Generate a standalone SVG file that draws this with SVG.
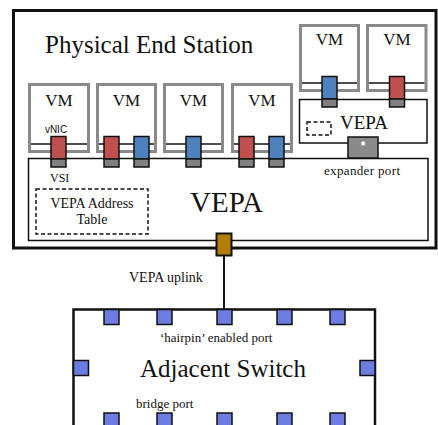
<svg xmlns="http://www.w3.org/2000/svg" width="438" height="425" viewBox="0 0 438 425">
  <defs>
    <!-- virtual NIC (coloured) sitting on its VSI (grey) -->
    <g id="nic-red">
      <rect width="15" height="22.5" fill="#c0504d" stroke="#111" stroke-width="1.5"/>
      <rect y="22.5" width="15" height="8" fill="#808080" stroke="#111" stroke-width="1.5"/>
    </g>
    <g id="nic-blue">
      <rect width="15" height="22.5" fill="#4f81bd" stroke="#111" stroke-width="1.5"/>
      <rect y="22.5" width="15" height="8" fill="#808080" stroke="#111" stroke-width="1.5"/>
    </g>
    <!-- bridge port square -->
    <rect id="sw-port" width="15" height="15" fill="#6c7ce0" stroke="#111" stroke-width="1.5"/>
  </defs>

  <!-- physical end station -->
  <g id="end-station">
    <rect x="13.5" y="10.5" width="422.5" height="237.5" fill="#fff" stroke="#111" stroke-width="3"/>
    <text x="45" y="53" font-family="Liberation Serif" font-size="25" fill="#111">Physical End Station</text>
  </g>

  <!-- main VEPA -->
  <g id="vepa-main">
    <rect x="28.5" y="158.5" width="399.5" height="82" fill="#fff" stroke="#111" stroke-width="1.5"/>
    <text x="190" y="212" font-family="Liberation Serif" font-size="29" fill="#111">VEPA</text>
    <rect x="36" y="189" width="112" height="45" fill="none" stroke="#111" stroke-width="1.5" stroke-dasharray="4 2.5"/>
    <text x="92" y="208" font-family="Liberation Serif" font-size="14" fill="#111" text-anchor="middle">VEPA Address</text>
    <text x="92" y="224" font-family="Liberation Serif" font-size="14" fill="#111" text-anchor="middle">Table</text>
    <text x="50" y="182" font-family="Liberation Serif" font-size="12" fill="#111">VSI</text>
    <text x="324" y="175" font-family="Liberation Serif" font-size="13" fill="#111" textLength="76">expander port</text>
  </g>

  <!-- cascaded VEPA -->
  <g id="vepa-cascade">
    <rect x="299.5" y="99.5" width="127.5" height="43.5" fill="#fff" stroke="#111" stroke-width="1.5"/>
    <rect x="307" y="122" width="24" height="13" fill="none" stroke="#111" stroke-width="1.5" stroke-dasharray="4 2.5"/>
    <text x="340" y="129" font-family="Liberation Serif" font-size="19" fill="#111">VEPA</text>
  </g>

  <!-- expander port -->
  <g id="expander-port">
    <rect x="348" y="137" width="30" height="21" fill="#8a8a8a" stroke="#111" stroke-width="1.5"/>
    <text x="363" y="150" font-family="Liberation Sans" font-size="12" font-weight="bold" fill="#fff" text-anchor="middle">*</text>
  </g>

  <!-- virtual machines on the main VEPA -->
  <g id="vm1">
    <rect x="29.5" y="84.5" width="59" height="67" fill="#fff" stroke="#8a8a8a" stroke-width="3"/>
    <line x1="31" y1="144" x2="87" y2="144" stroke="#111" stroke-width="1.5"/>
    <text x="59" y="106" font-family="Liberation Serif" font-size="17" fill="#111" text-anchor="middle">VM</text>
    <text x="56" y="133" font-family="Liberation Sans" font-size="10" fill="#111" text-anchor="middle">vNIC</text>
    <use href="#nic-red" x="51" y="136.5"/>
  </g>
  <g id="vm2">
    <rect x="97.5" y="84.5" width="58" height="67" fill="#fff" stroke="#8a8a8a" stroke-width="3"/>
    <line x1="99" y1="144" x2="154" y2="144" stroke="#111" stroke-width="1.5"/>
    <text x="126.5" y="106" font-family="Liberation Serif" font-size="17" fill="#111" text-anchor="middle">VM</text>
    <use href="#nic-red" x="104" y="136.5"/>
    <use href="#nic-blue" x="134" y="136.5"/>
  </g>
  <g id="vm3">
    <rect x="164.5" y="84.5" width="58" height="67" fill="#fff" stroke="#8a8a8a" stroke-width="3"/>
    <line x1="166" y1="144" x2="221" y2="144" stroke="#111" stroke-width="1.5"/>
    <text x="193.5" y="106" font-family="Liberation Serif" font-size="17" fill="#111" text-anchor="middle">VM</text>
    <use href="#nic-blue" x="186" y="136.5"/>
  </g>
  <g id="vm4">
    <rect x="232.5" y="84.5" width="59" height="67" fill="#fff" stroke="#8a8a8a" stroke-width="3"/>
    <line x1="234" y1="144" x2="290" y2="144" stroke="#111" stroke-width="1.5"/>
    <text x="262" y="106" font-family="Liberation Serif" font-size="17" fill="#111" text-anchor="middle">VM</text>
    <use href="#nic-red" x="239" y="136.5"/>
    <use href="#nic-blue" x="269" y="136.5"/>
  </g>

  <!-- virtual machines on the cascaded VEPA -->
  <g id="vm5">
    <rect x="300.5" y="25.5" width="58" height="65" fill="#fff" stroke="#8a8a8a" stroke-width="3"/>
    <line x1="302" y1="83" x2="357" y2="83" stroke="#111" stroke-width="1.5"/>
    <text x="329.5" y="45" font-family="Liberation Serif" font-size="17" fill="#111" text-anchor="middle">VM</text>
    <use href="#nic-blue" x="322" y="76.5"/>
  </g>
  <g id="vm6">
    <rect x="367.5" y="25.5" width="58.5" height="65" fill="#fff" stroke="#8a8a8a" stroke-width="3"/>
    <line x1="369" y1="83" x2="424.5" y2="83" stroke="#111" stroke-width="1.5"/>
    <text x="397" y="45" font-family="Liberation Serif" font-size="17" fill="#111" text-anchor="middle">VM</text>
    <use href="#nic-red" x="389.5" y="76.5"/>
  </g>

  <!-- uplink connector -->
  <g id="connectors">
    <line x1="224" y1="256" x2="224" y2="309" stroke="#111" stroke-width="2"/>
    <text x="129" y="282" font-family="Liberation Serif" font-size="14" fill="#111">VEPA uplink</text>
  </g>

  <!-- uplink port -->
  <g id="uplink-port">
    <rect x="216.5" y="233.5" width="15" height="22" fill="#b37d00" stroke="#111" stroke-width="2"/>
  </g>

  <!-- adjacent bridge -->
  <g id="adjacent-switch">
    <rect x="73.5" y="309.5" width="301.5" height="200" fill="#fff" stroke="#111" stroke-width="2.5"/>
    <use href="#sw-port" x="104" y="309.5"/>
    <use href="#sw-port" x="157" y="309.5"/>
    <use href="#sw-port" x="217" y="309.5"/>
    <use href="#sw-port" x="277" y="309.5"/>
    <use href="#sw-port" x="330" y="309.5"/>
    <use href="#sw-port" x="73.5" y="360.5"/>
    <use href="#sw-port" x="360" y="360.5"/>
    <use href="#sw-port" x="104" y="413"/>
    <use href="#sw-port" x="157" y="413"/>
    <use href="#sw-port" x="217" y="413"/>
    <use href="#sw-port" x="277" y="413"/>
    <use href="#sw-port" x="330" y="413"/>
    <text x="160" y="342" font-family="Liberation Serif" font-size="13" fill="#111">&#8216;hairpin&#8217; enabled port</text>
    <text x="140" y="377" font-family="Liberation Serif" font-size="25" fill="#111">Adjacent Switch</text>
    <text x="136" y="408" font-family="Liberation Serif" font-size="13" fill="#111">bridge port</text>
  </g>
</svg>
